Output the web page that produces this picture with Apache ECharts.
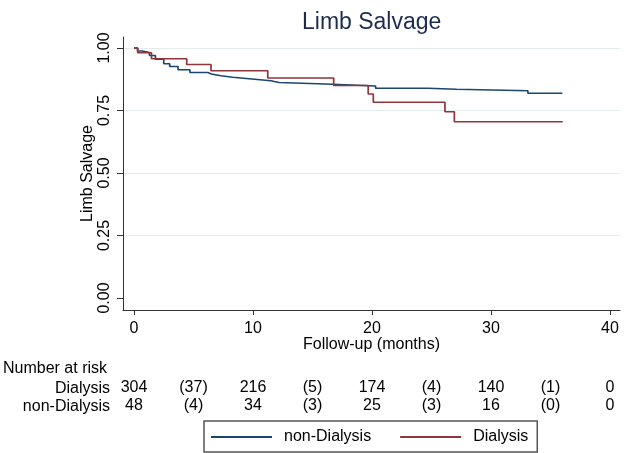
<!DOCTYPE html>
<html>
<head>
<meta charset="utf-8">
<script src="https://cdn.jsdelivr.net/npm/echarts@6/dist/echarts.min.js"></script>
<style>html,body{margin:0;padding:0;background:#fff}#c{width:624px;height:453px}</style>
</head>
<body>
<div id="c"></div>
<script>
// ---- data ----
var nonDialysisTime = [0, 0.3, 0.7, 1.3, 1.8, 2.5, 3.0, 3.7, 4.7, 6.2, 6.5, 7.3, 8.3, 9.9, 11.5, 12.2, 16.7, 20.3, 24.7, 27.1, 33.1, 36.0];
var nonDialysisSurv = [1.0, 0.988, 0.982, 0.970, 0.955, 0.937, 0.926, 0.913, 0.902, 0.896, 0.889, 0.883, 0.876, 0.869, 0.862, 0.855, 0.848, 0.839, 0.835, 0.829, 0.819, 0.819];
var dialysisTime = [0, 0.31, 1.47, 4.43, 6.47, 11.24, 16.78, 19.68, 20.11, 26.13, 26.92, 36.03];
var dialysisSurv = [1.0, 0.981, 0.957, 0.934, 0.909, 0.880, 0.850, 0.816, 0.783, 0.745, 0.705, 0.705];
var xTicks = [0, 10, 20, 30, 40];
var yTicks = [0, 0.25, 0.5, 0.75, 1];
var riskTimes = [0, 5, 10, 15, 20, 25, 30, 35, 40];
var riskDialysis = ['304', '(37)', '216', '(5)', '174', '(4)', '140', '(1)', '0'];
var riskNonDialysis = ['48', '(4)', '34', '(3)', '25', '(3)', '16', '(0)', '0'];

function pairs(t, s) { return t.map(function (v, i) { return [v, s[i]]; }); }

var FONT = 'Liberation Sans, Arial, sans-serif';
var AX = '#333333';
var xMin = -0.924, xMax = 40.84;

function riskAxis(gridIndex, labels) {
  return {
    type: 'value', gridIndex: gridIndex, min: xMin, max: xMax, position: 'top',
    axisLine: { show: false }, axisTick: { show: false }, splitLine: { show: false },
    axisLabel: {
      customValues: riskTimes, margin: 0, verticalAlign: 'middle', color: '#000',
      fontSize: 16, fontFamily: FONT,
      formatter: function (v) { var i = riskTimes.indexOf(v); return i >= 0 ? labels[i] : ''; }
    }
  };
}
function rowAxis(gridIndex, name) {
  return {
    type: 'category', gridIndex: gridIndex, data: [name],
    axisLine: { show: false }, axisTick: { show: false }, splitLine: { show: false },
    axisLabel: { margin: 13, color: '#000', fontSize: 16, fontFamily: FONT }
  };
}

var chart = echarts.init(document.getElementById('c'));
chart.setOption({
  animation: false,
  backgroundColor: '#fff',
  title: {
    text: 'Limb Salvage', left: 302, top: 11, padding: 0,
    textStyle: { fontSize: 23, fontWeight: 'normal', color: '#1d2b4f', fontFamily: FONT }
  },
  graphic: [{
    type: 'text', left: 3, top: 361,
    style: { text: 'Number at risk', fontSize: 16, fontFamily: FONT, fill: '#000' }
  }],
  legend: {
    left: 204, top: 421, padding: [8, 9, 7, 7], itemGap: 29,
    borderColor: '#555', borderWidth: 1.5,
    icon: 'rect', itemWidth: 61, itemHeight: 2,
    textStyle: { fontSize: 16, fontFamily: FONT, color: '#000', padding: [0, 0, 0, 7] },
    data: ['non-Dialysis', 'Dialysis']
  },
  grid: [
    { left: 123, right: 4, top: 37, bottom: 143 },
    { left: 123, right: 4, top: 388, height: 1 },
    { left: 123, right: 4, top: 406, height: 1 }
  ],
  xAxis: [{
    type: 'value', gridIndex: 0, min: xMin, max: xMax,
    name: 'Follow-up (months)', nameLocation: 'middle', nameGap: 27, nameMoveOverlap: false,
    nameTextStyle: { fontSize: 16, fontFamily: FONT, color: '#000' },
    axisLine: { show: true, onZero: false, lineStyle: { color: AX, width: 1 } },
    axisTick: { show: true, customValues: xTicks, length: 5, lineStyle: { color: AX } },
    axisLabel: { customValues: xTicks, margin: 11, fontSize: 16, fontFamily: FONT, color: '#000' },
    splitLine: { show: false }
  }, riskAxis(1, riskDialysis), riskAxis(2, riskNonDialysis)],
  yAxis: [{
    type: 'value', gridIndex: 0, min: -0.048, max: 1.044,
    name: 'Limb Salvage', nameLocation: 'middle', nameGap: 27, nameRotate: 90, nameMoveOverlap: false,
    nameTextStyle: { fontSize: 16, fontFamily: FONT, color: '#000' },
    axisLine: { show: true, onZero: false, lineStyle: { color: AX, width: 1 } },
    axisTick: { show: true, customValues: yTicks, length: 6, lineStyle: { color: AX } },
    axisLabel: {
      customValues: yTicks, rotate: 90, margin: 10, fontSize: 16, fontFamily: FONT, color: '#000',
      formatter: function (v) { return v.toFixed(2); }
    },
    splitLine: { show: true, lineStyle: { color: ['rgba(0,0,0,0)', '#e4eded', '#e4eded', '#e4eded', '#e4eded'], width: 1 } }
  }, rowAxis(1, 'Dialysis'), rowAxis(2, 'non-Dialysis')],
  series: [{
    name: 'non-Dialysis', type: 'line', step: 'end', xAxisIndex: 0, yAxisIndex: 0,
    data: pairs(nonDialysisTime, nonDialysisSurv), showSymbol: false,
    lineStyle: { color: '#1a476f', width: 1.7 }, itemStyle: { color: '#1a476f' }
  }, {
    name: 'Dialysis', type: 'line', step: 'end', xAxisIndex: 0, yAxisIndex: 0,
    data: pairs(dialysisTime, dialysisSurv), showSymbol: false,
    lineStyle: { color: '#90353b', width: 1.7 }, itemStyle: { color: '#90353b' }
  }]
});
</script>
</body>
</html>
